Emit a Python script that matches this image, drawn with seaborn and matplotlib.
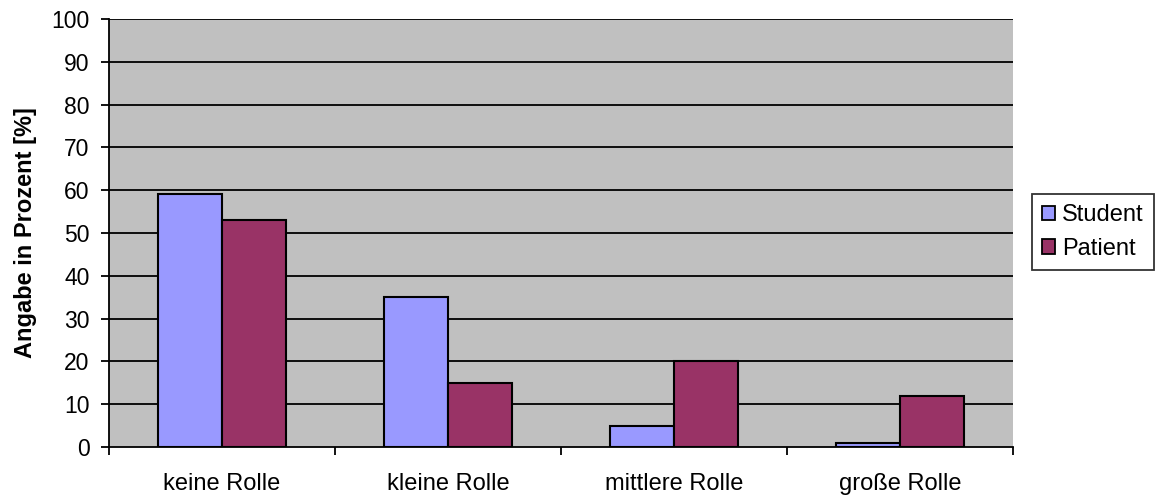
import matplotlib
matplotlib.use("Agg")
import matplotlib.pyplot as plt
import seaborn as sns
import pandas as pd

categories = ["keine Rolle", "kleine Rolle", "mittlere Rolle", "große Rolle"]
student = [59, 35, 5, 1]
patient = [53, 15, 20, 12]
series_names = ["Student", "Patient"]
y_ticks = [0, 10, 20, 30, 40, 50, 60, 70, 80, 90, 100]

df = pd.DataFrame({
    "Kategorie": categories * 2,
    "Wert": student + patient,
    "Gruppe": [series_names[0]] * len(categories) + [series_names[1]] * len(categories),
})

sns.set_theme(style="white", rc={
    "xtick.bottom": True, "ytick.left": True,
    "text.color": "black", "axes.labelcolor": "black",
    "xtick.color": "black", "ytick.color": "black",
})
plt.rcParams["font.family"] = ["Liberation Sans", "DejaVu Sans"]

fig = plt.figure(figsize=(11.56, 4.97), dpi=100)
ax = fig.add_axes([109 / 1156, 50 / 497, 904 / 1156, 428 / 497])
ax.set_facecolor("#C0C0C0")

sns.barplot(
    data=df, x="Kategorie", y="Wert", hue="Gruppe",
    order=categories, hue_order=series_names,
    palette=["#9999FF", "#993366"], width=0.57, gap=0,
    edgecolor="black", linewidth=1.5, saturation=1, ax=ax, legend=True,
)

ax.set_ylim(0, 100)
ax.set_xlim(-0.5, len(categories) - 0.5)
ax.set_yticks(y_ticks)
ax.set_yticklabels([str(t) for t in y_ticks], fontsize=16.5)
for t in y_ticks[1:]:
    ax.axhline(t, color="black", lw=1.3, zorder=0.5)
ax.set_axisbelow(True)

# category labels centred, tick marks at the category borders
ax.set_xticks(range(len(categories)))
ax.set_xticklabels(categories, fontsize=17)
ax.tick_params(axis="x", which="major", length=0, pad=19)
ax.set_xticks([i - 0.5 for i in range(len(categories) + 1)], minor=True)
ax.tick_params(axis="x", which="minor", direction="out", length=6, width=1.3, color="black")
ax.tick_params(axis="y", direction="out", length=6, width=1.3, color="black", pad=8)

ax.set_xlabel("")
ax.set_ylabel("Angabe in Prozent [%]", fontsize=17, fontweight="bold", labelpad=10)

for side in ["top", "right"]:
    ax.spines[side].set_visible(False)
for side in ["left", "bottom"]:
    ax.spines[side].set_color("black")
    ax.spines[side].set_linewidth(1.3)

handles, labels = ax.get_legend_handles_labels()
ax.legend_.remove()
leg = fig.legend(
    handles, labels, loc="center left",
    bbox_to_anchor=(1032 / 1156, 1 - 232 / 497),
    fontsize=17, frameon=True, fancybox=False, edgecolor="black",
    handlelength=0.55, handleheight=0.55, handletextpad=0.3,
    borderpad=0.42, labelspacing=0.5, borderaxespad=0,
)
leg.get_frame().set_linewidth(1.3)
for h in leg.legend_handles:
    h.set_edgecolor("black")
    h.set_linewidth(1.3)

fig.savefig("out.png", dpi=100, facecolor="white")
